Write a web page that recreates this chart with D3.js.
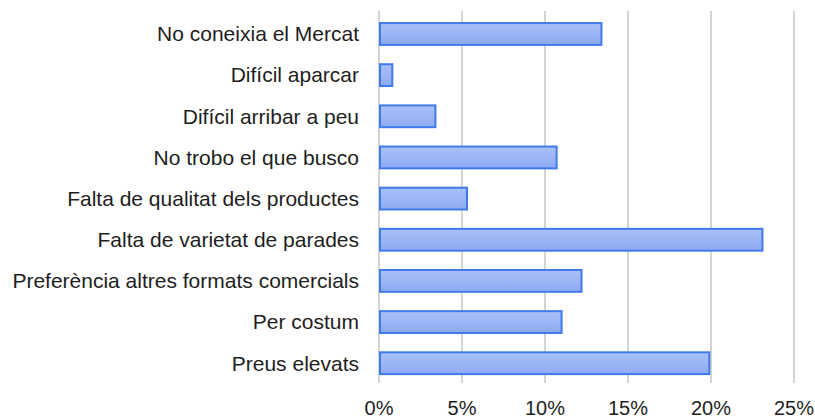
<!DOCTYPE html>
<html><head><meta charset="utf-8">
<script src="https://cdn.jsdelivr.net/npm/d3@7"></script>
<style>html,body{margin:0;padding:0;background:#fff;}svg{display:block;}</style>
</head><body>
<svg id="c" width="815" height="419"></svg>
<script>
const categories = ["No coneixia el Mercat","Difícil aparcar","Difícil arribar a peu","No trobo el que busco","Falta de qualitat dels productes","Falta de varietat de parades","Preferència altres formats comercials","Per costum","Preus elevats"];
const values = [13.4, 0.8, 3.4, 10.7, 5.3, 23.1, 12.2, 11.0, 19.9];
const tickValues = [0,5,10,15,20,25];
const tickLabels = ["0%","5%","10%","15%","20%","25%"];

const svg = d3.select("#c");
const x = d3.scaleLinear().domain([0,25]).range([379,794]);
const y = d3.scaleBand().domain(categories).range([13.4,383.8]).paddingInner(0.47).paddingOuter(0.235);

const defs = svg.append("defs");
const g = defs.append("linearGradient").attr("id","bg").attr("x1",0).attr("y1",0).attr("x2",0).attr("y2",1);
g.append("stop").attr("offset","0%").attr("stop-color","#a9c0f8");
g.append("stop").attr("offset","100%").attr("stop-color","#8eaaf3");

svg.append("g").selectAll("line").data(tickValues).join("line")
  .attr("x1",d=>x(d)).attr("x2",d=>x(d)).attr("y1",11).attr("y2",383)
  .attr("stroke","#d4d4d4").attr("stroke-width",2);

svg.append("g").selectAll("rect").data(values).join("rect")
  .attr("x",x(0)+1).attr("y",(d,i)=>y(categories[i]))
  .attr("width",d=>x(d)-x(0)-1).attr("height",y.bandwidth())
  .attr("fill","url(#bg)").attr("stroke","#3f7ae8").attr("stroke-width",2);

svg.append("g").selectAll("text").data(categories).join("text")
  .attr("x",359).attr("y",d=>y(d)+y.bandwidth()/2).attr("dy","0.35em")
  .attr("text-anchor","end").attr("font-family","Liberation Sans, Arial, sans-serif")
  .attr("font-size",21).attr("fill","#1e1e1e").text(d=>d);

svg.append("g").selectAll("text").data(tickValues).join("text")
  .attr("x",d=>x(d)).attr("y",408).attr("dy","0.35em")
  .attr("text-anchor","middle").attr("font-family","Liberation Sans, Arial, sans-serif")
  .attr("font-size",20).attr("fill","#1e1e1e").text((d,i)=>tickLabels[i]);
</script>
</body></html>
